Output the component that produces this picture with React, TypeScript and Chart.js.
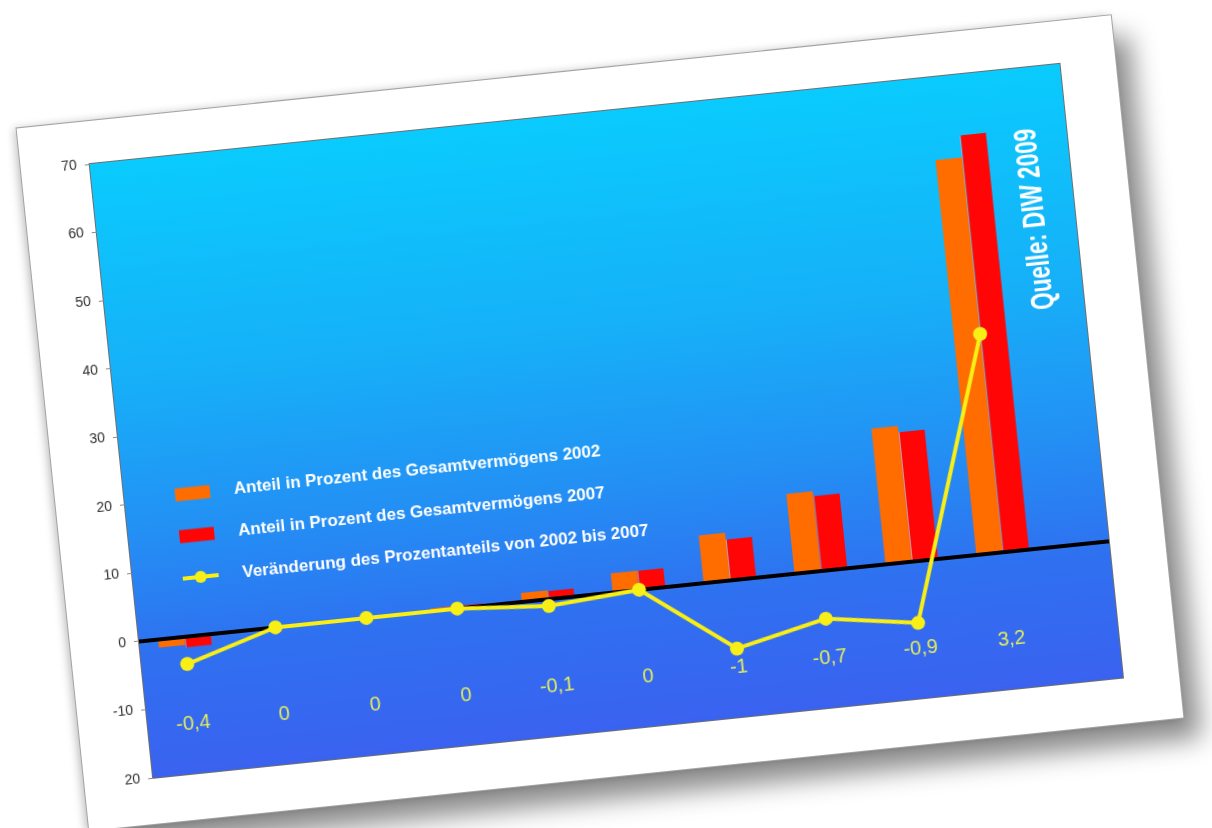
import React, { useEffect, useRef } from "react";
import { Chart, registerables } from "chart.js";

Chart.register(...registerables);

// ---- data ----
const categories = ["1", "2", "3", "4", "5", "6", "7", "8", "9", "10"];
const share2002 = [-1.2, 0, 0, 0.4, 1.3, 2.8, 7.0, 11.7, 19.9, 57.9];
const share2007 = [-1.6, 0, 0, 0.4, 1.2, 2.8, 6.0, 11.0, 19.0, 61.1];
const changeLine = [-4, 0, 0, 0, -1, 0, -10, -7, -9, 32];
const changeLabels = ["-0,4", "0", "0", "0", "-0,1", "0", "-1", "-0,7", "-0,9", "3,2"];
const yTickValues = [-20, -10, 0, 10, 20, 30, 40, 50, 60, 70];
const yTickLabels = ["20", "-10", "0", "10", "20", "30", "40", "50", "60", "70"];
const seriesNames = [
  "Anteil in Prozent des Gesamtvermögens 2002",
  "Anteil in Prozent des Gesamtvermögens 2007",
  "Veränderung des Prozentanteils von 2002 bis 2007",
];
const sourceText = "Quelle: DIW 2009";

// ---- styles ----
const ORANGE = "#ff6c00";
const RED = "#ff0505";
const YELLOW = "#f7ef16";
const LABEL_YELLOW = "#e2ec5c";
const EXTRA_RIGHT = 61;
const LABEL_VALUE_Y = -12.8;
const FONT = "'Liberation Sans', Arial, Helvetica, sans-serif";

const decorPlugin = {
  id: "decor",
  beforeDraw(chart: any) {
    const { ctx, chartArea: a } = chart;
    const right = a.right + EXTRA_RIGHT;
    const g = ctx.createLinearGradient(0, a.top, 0, a.bottom);
    g.addColorStop(0, "#0acbfd");
    g.addColorStop(0.35, "#16b0f8");
    g.addColorStop(0.6, "#2390f4");
    g.addColorStop(0.8, "#2f70f0");
    g.addColorStop(1, "#3a62f0");
    ctx.save();
    ctx.fillStyle = g;
    ctx.fillRect(a.left, a.top, right - a.left, a.bottom - a.top);
    ctx.strokeStyle = "#6e6e6e";
    ctx.lineWidth = 1;
    ctx.strokeRect(a.left - 0.5, a.top - 0.5, right - a.left + 1, a.bottom - a.top + 1);
    ctx.restore();
  },
  beforeDatasetDraw(chart: any, args: any) {
    if (args.index !== 2) return;
    const { ctx, chartArea: a, scales } = chart;
    const y0 = scales.y.getPixelForValue(0);
    ctx.save();
    ctx.strokeStyle = "#000";
    ctx.lineWidth = 4;
    ctx.beginPath();
    ctx.moveTo(a.left, y0);
    ctx.lineTo(a.right + EXTRA_RIGHT, y0);
    ctx.stroke();
    ctx.restore();
  },
  afterDraw(chart: any) {
    const { ctx, chartArea: a, scales } = chart;
    ctx.save();
    // change labels
    ctx.font = `20px ${FONT}`;
    ctx.fillStyle = LABEL_YELLOW;
    ctx.textAlign = "center";
    ctx.textBaseline = "middle";
    const ly = scales.y.getPixelForValue(LABEL_VALUE_Y);
    changeLabels.forEach((t, i) => {
      ctx.fillText(t, scales.x.getPixelForValue(i), ly);
    });

    // legend
    const rowY = [a.top + 338, a.top + 380, a.top + 422];
    const symX = a.left + 68;
    const textX = a.left + 110;
    ctx.font = `bold 17px ${FONT}`;
    ctx.textAlign = "left";
    ctx.textBaseline = "middle";
    const cols = [ORANGE, RED];
    for (let i = 0; i < 2; i++) {
      ctx.fillStyle = cols[i];
      ctx.fillRect(symX - 17, rowY[i] - 6.5, 35, 13);
    }
    ctx.strokeStyle = YELLOW;
    ctx.lineWidth = 4;
    ctx.beginPath();
    ctx.moveTo(symX - 18, rowY[2]);
    ctx.lineTo(symX + 18, rowY[2]);
    ctx.stroke();
    ctx.fillStyle = YELLOW;
    ctx.beginPath();
    ctx.arc(symX, rowY[2], 6, 0, Math.PI * 2);
    ctx.fill();
    ctx.fillStyle = "#ffffff";
    seriesNames.forEach((n, i) => ctx.fillText(n, textX, rowY[i]));

    // source
    ctx.translate(a.right + 21, a.top + 152);
    ctx.rotate(-Math.PI / 2);
    ctx.font = `bold 31px ${FONT}`;
    ctx.fillStyle = "#ffffff";
    ctx.textAlign = "center";
    ctx.textBaseline = "middle";
    ctx.fillText(sourceText, 0, 0, 182);
    ctx.restore();
  },
};

export default function App() {
  const canvasRef = useRef<HTMLCanvasElement | null>(null);

  useEffect(() => {
    if (!canvasRef.current) return;
    Chart.defaults.font.family = FONT;
    const chart = new Chart(canvasRef.current, {
      type: "bar",
      data: {
        labels: categories,
        datasets: [
          {
            type: "bar",
            label: seriesNames[0],
            data: share2002,
            backgroundColor: ORANGE,
            borderWidth: 0,
            order: 1,
          },
          {
            type: "bar",
            label: seriesNames[1],
            data: share2007,
            backgroundColor: RED,
            borderColor: "rgba(255,170,170,0.9)",
            borderWidth: { left: 1, top: 0, right: 0, bottom: 0 },
            borderSkipped: false,
            order: 1,
          },
          {
            type: "line",
            label: seriesNames[2],
            data: changeLine,
            borderColor: YELLOW,
            backgroundColor: YELLOW,
            borderWidth: 4,
            pointRadius: 7,
            pointBorderWidth: 0,
            pointBackgroundColor: YELLOW,
            tension: 0,
            order: 0,
          },
        ],
      } as any,
      options: {
        animation: false,
        responsive: false,
        maintainAspectRatio: false,
        layout: { padding: { left: 0, right: 117, top: 43, bottom: 46 } },
        plugins: {
          legend: { display: false },
          tooltip: { enabled: false },
        },
        datasets: {
          bar: { categoryPercentage: 0.58, barPercentage: 1.0 },
        },
        scales: {
          x: {
            display: false,
            offset: true,
          },
          y: {
            min: -20,
            max: 70,
            afterFit: (scale: any) => {
              scale.width = 69;
            },
            ticks: {
              stepSize: 10,
              padding: 8,
              color: "#2e2e2e",
              font: { size: 14, family: FONT },
              callback: (v: any) => {
                const idx = yTickValues.indexOf(Number(v));
                return idx >= 0 ? yTickLabels[idx] : "";
              },
            },
            grid: {
              display: true,
              drawOnChartArea: false,
              drawTicks: true,
              tickLength: 5,
              color: "#8a8a8a",
            },
            border: { display: false },
          },
        },
      } as any,
      plugins: [decorPlugin],
    });
    return () => chart.destroy();
  }, []);

  return (
    <div
      style={{
        position: "fixed",
        left: 0,
        top: 0,
        width: 1212,
        height: 828,
        overflow: "hidden",
        background: "#ffffff",
      }}
    >
      <div
        style={{
          position: "absolute",
          left: 49.5,
          top: 69.5,
          width: 1100,
          height: 706,
          background: "#ffffff",
          transform: "rotate(-5.9deg)",
          transformOrigin: "50% 50%",
          boxShadow:
            "0 0 0 1px #a4a4a4, -3px 0 8px rgba(0,0,0,0.22), 16px 22px 26px rgba(0,0,0,0.45)",
        }}
      >
        <canvas
          ref={canvasRef}
          width={1100}
          height={706}
          style={{ display: "block", width: 1100, height: 706 }}
        />
      </div>
    </div>
  );
}
